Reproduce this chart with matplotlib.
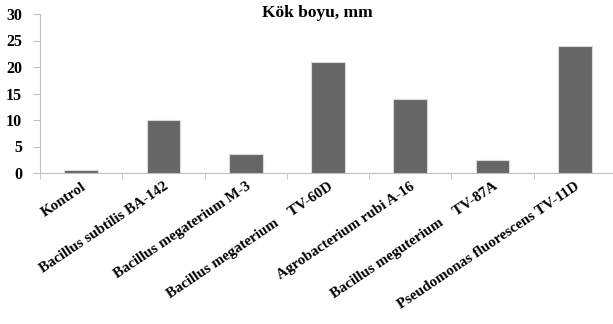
import matplotlib
matplotlib.use("Agg")
import matplotlib.pyplot as plt
from matplotlib.ticker import FixedLocator

categories = ["Kontrol", "Bacillus subtilis BA-142", "Bacillus megaterium M-3",
              "Bacillus megaterium    TV-60D", "Agrobacterium rubi A-16",
              "Bacillus meguterium    TV-87A", "Pseudomonas fluorescens TV-11D"]
values = [0.5, 10, 3.5, 21, 14, 2.5, 24]
yticks = [0, 5, 10, 15, 20, 25, 30]
title = "Kök boyu, mm"

plt.rcParams['font.family'] = ['Liberation Serif', 'DejaVu Serif']
fig = plt.figure(figsize=(6.13, 3.24), dpi=100)
W, H = 613, 324
left, right, bottom, top = 40, 616, 173, 14
ax = fig.add_axes([left / W, 1 - bottom / H, (right - left) / W, (bottom - top) / H])

x = list(range(len(categories)))
ax.bar(x, values, width=0.41, color="#666666", edgecolor="#d9d9d9", linewidth=0.8, zorder=3)
ax.set_xlim(-0.5, len(categories) - 0.5)
ax.set_ylim(0, 30)
ax.set_yticks(yticks)
ax.set_yticklabels([str(v) for v in yticks], fontsize=11.5, fontweight='bold')
ax.set_xticks(x)
ax.set_xticklabels(categories, rotation=34, ha='right', rotation_mode='anchor',
                   fontsize=10.8, fontweight='bold')
ax.tick_params(axis='x', which='major', length=0, pad=5)
ax.xaxis.set_minor_locator(FixedLocator([i - 0.5 for i in range(len(categories) + 1)]))
ax.tick_params(axis='x', which='minor', length=4, color="#bfbfbf", direction='out')
ax.tick_params(axis='y', length=5, color="#bfbfbf", pad=8)
for s in ['top', 'right']:
    ax.spines[s].set_visible(False)
for s in ['left', 'bottom']:
    ax.spines[s].set_color("#bfbfbf")
    ax.spines[s].set_linewidth(0.8)
fig.text(317 / W, 1 - 13 / H, title, ha='center', va='center', fontsize=12.5, fontweight='bold')
fig.savefig("out.png", dpi=100)
